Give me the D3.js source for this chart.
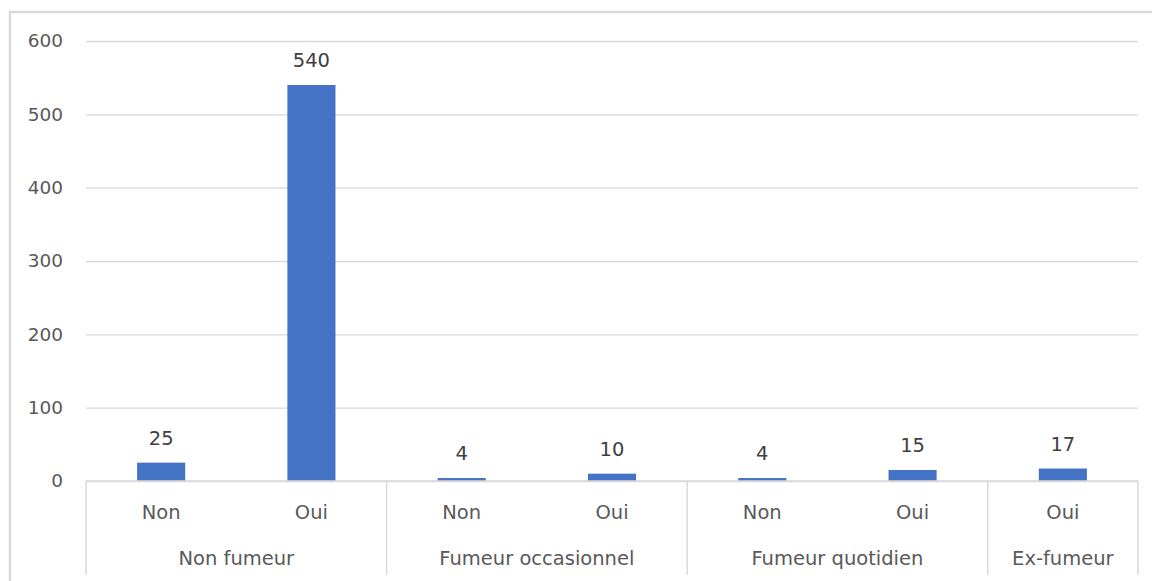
<!DOCTYPE html>
<html>
<head>
<meta charset="utf-8">
<script src="https://cdn.jsdelivr.net/npm/d3@7"></script>
<style>
  html, body { margin: 0; padding: 0; background: #fff; }
  svg { display: block; }
  text { font-family: "DejaVu Sans", sans-serif; }
</style>
</head>
<body>
<div id="chart"></div>
<script>
// Réponses par statut tabagique
const groups = ["Non fumeur", "Fumeur occasionnel", "Fumeur quotidien", "Ex-fumeur"];
const answers = ["Non", "Oui", "Non", "Oui", "Non", "Oui", "Oui"];
const answerGroup = [0, 0, 1, 1, 2, 2, 3];
const values = [25, 540, 4, 10, 4, 15, 17];
const yTicks = [0, 100, 200, 300, 400, 500, 600];

const W = 1152, H = 581;
const plot = { left: 86, right: 1138, top: 41, bottom: 481 };

const svg = d3.select("#chart").append("svg")
  .attr("width", W).attr("height", H);

// outer chart frame
svg.append("rect")
  .attr("x", 10).attr("y", 12)
  .attr("width", W + 20).attr("height", H + 20)
  .attr("fill", "none")
  .attr("stroke", "#d9d9d9")
  .attr("stroke-width", 2.5);

const keys = values.map((v, i) => i);

const x = d3.scaleBand()
  .domain(keys)
  .range([plot.left, plot.right])
  .paddingInner(0.68)
  .paddingOuter(0.34);

const step = x.step();
const slotLeft = i => x(i) - x.paddingInner() * step / 2;

const y = d3.scaleLinear()
  .domain([0, 600])
  .range([plot.bottom, plot.top]);

// horizontal gridlines + tick labels
const yAxis = d3.axisLeft(y)
  .tickValues(yTicks)
  .tickSize(-(plot.right - plot.left))
  .tickPadding(23)
  .tickFormat(d3.format("d"));

const gy = svg.append("g")
  .attr("transform", `translate(${plot.left},0)`)
  .call(yAxis);
gy.select(".domain").remove();
gy.selectAll(".tick line")
  .attr("stroke", "#d9d9d9")
  .attr("stroke-width", 1.3);
gy.selectAll(".tick text")
  .attr("fill", "#595959")
  .attr("font-size", 18.5)
  .attr("font-family", "DejaVu Sans, sans-serif");

// bars
svg.append("g").selectAll("rect")
  .data(keys)
  .join("rect")
  .attr("x", i => x(i))
  .attr("y", i => y(values[i]))
  .attr("width", x.bandwidth())
  .attr("height", i => y(0) - y(values[i]))
  .attr("fill", "#4472c4");

// value labels
svg.append("g").selectAll("text")
  .data(keys)
  .join("text")
  .attr("x", i => x(i) + x.bandwidth() / 2)
  .attr("y", i => y(values[i]) - 18)
  .attr("text-anchor", "middle")
  .attr("fill", "#404040")
  .attr("font-size", 19.5)
  .text(i => values[i]);

// category axis baseline
svg.append("line")
  .attr("x1", plot.left).attr("x2", plot.right)
  .attr("y1", y(0)).attr("y2", y(0))
  .attr("stroke", "#d9d9d9")
  .attr("stroke-width", 1.5);

// group boundaries in the category axis
const groupBounds = groups.map((g, gi) => {
  const idx = keys.filter(i => answerGroup[i] === gi);
  return { name: g, x0: slotLeft(idx[0]), x1: slotLeft(idx[idx.length - 1]) + step };
});
const sepX = [groupBounds[0].x0].concat(groupBounds.map(b => b.x1));

svg.append("g").selectAll("line")
  .data(sepX)
  .join("line")
  .attr("x1", d => d).attr("x2", d => d)
  .attr("y1", y(0)).attr("y2", 575)
  .attr("stroke", "#d9d9d9")
  .attr("stroke-width", 1.5);

// first level: answer labels
svg.append("g").selectAll("text")
  .data(keys)
  .join("text")
  .attr("x", i => x(i) + x.bandwidth() / 2)
  .attr("y", 519)
  .attr("text-anchor", "middle")
  .attr("fill", "#595959")
  .attr("font-size", 19.5)
  .text(i => answers[i]);

// second level: group labels
svg.append("g").selectAll("text")
  .data(groupBounds)
  .join("text")
  .attr("x", d => (d.x0 + d.x1) / 2)
  .attr("y", 565)
  .attr("text-anchor", "middle")
  .attr("fill", "#595959")
  .attr("font-size", 19.5)
  .text(d => d.name);
</script>
</body>
</html>
